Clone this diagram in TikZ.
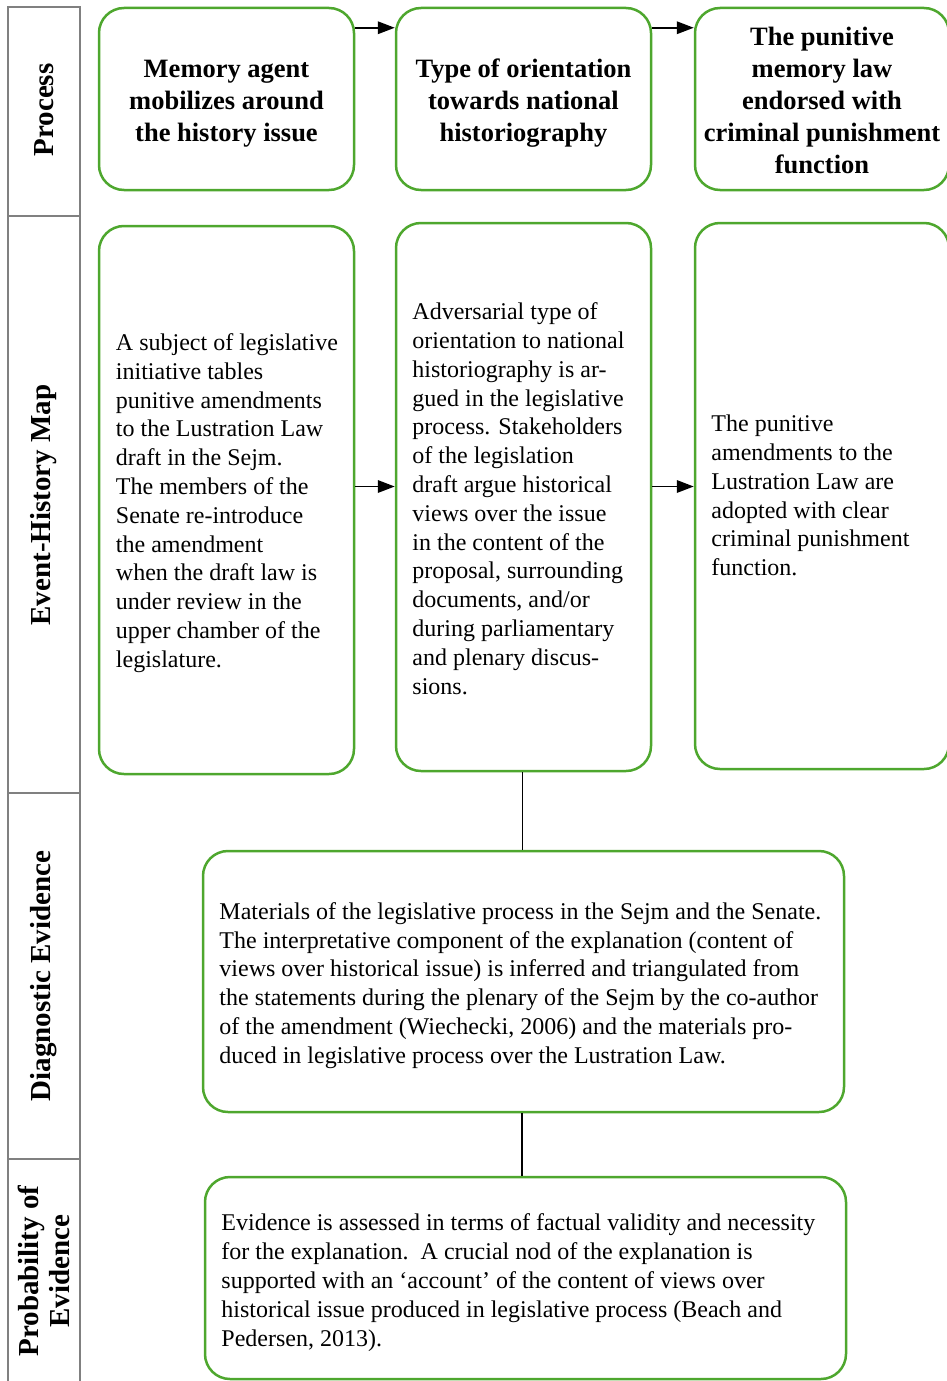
\documentclass[tikz,border=0pt]{standalone}
\usepackage{fontspec}
\setmainfont{Liberation Serif}
\usetikzlibrary{arrows.meta}
\definecolor{boxgreen}{RGB}{78,167,46}
\definecolor{railgray}{RGB}{128,128,128}

\begin{document}
\begin{tikzpicture}[x=1pt,y=-1pt,
  box/.style={draw=boxgreen, line width=2.5pt, rounded corners=25pt, inner sep=0pt},
  head/.style={inner sep=0pt, align=center, font=\fontsize{26.5}{32}\selectfont\bfseries},
  body/.style={inner sep=0pt, anchor=west, align=left, font=\fontsize{24}{28.8}\selectfont},
  flow/.style={line width=1.8pt, -{Triangle[length=17pt,width=12.5pt]}},
  link/.style={line width=1.8pt},
  rail/.style={draw=railgray, line width=2pt},
  lab/.style={rotate=90, align=center, font=\fontsize{29}{31}\selectfont\bfseries}]

\useasboundingbox (0,0) rectangle (947,1381);

% left-hand rail with the row titles
\draw[rail] (8,1390) -- (8,7) -- (80,7) -- (80,1390);
\draw[rail] (8,216) -- (80,216);
\draw[rail] (8,793) -- (80,793);
\draw[rail] (8,1159) -- (80,1159);
\node[lab] (lProc) at (44,110) {Process};
\node[lab] (lMap)  at (44,505) {Event-History Map};
\node[lab] (lDiag) at (44,976) {Diagnostic Evidence};
\node[lab] (lProb) at (44,1271) {Probability of\\Evidence};

% process row
\node[box, minimum width=255pt, minimum height=182pt] (A) at (226.5,99) {};
\node[box, minimum width=255pt, minimum height=182pt] (B) at (523.5,99) {};
\node[box, minimum width=254pt, minimum height=182pt] (C) at (822,99) {};

\node[head] (At) at ([yshift=-4.5pt]A.center)
  {Memory agent\\mobilizes around\\the history issue};
\node[head] (Bt) at ([yshift=-4.5pt]B.center)
  {Type of orientation\\towards national\\historiography};
\node[head] (Ct) at ([yshift=-1pt]C.center)
  {The punitive\\memory law\\endorsed with\\criminal punishment\\function};

% event-history row
\node[box, minimum width=255pt, minimum height=548pt] (D) at (226.5,500) {};
\node[box, minimum width=255pt, minimum height=548pt] (E) at (523.5,497) {};
\node[box, minimum width=254pt, minimum height=546pt] (F) at (822,496) {};

\node[body] (Dt) at ([xshift=18pt,yshift=-3pt]D.west)
  {A subject of legislative\\initiative tables\\punitive amendments\\to the Lustration Law\\draft in the Sejm.\\The members of the\\Senate re-introduce\\the amendment\\when the draft law is\\under review in the\\upper chamber of the\\legislature.};
\node[body] (Et) at ([xshift=17.5pt,yshift=-1.7pt]E.west)
  {Adversarial type of\\orientation to national\\historiography is ar-\\gued in the legislative\\process. Stakeholders\\of the legislation\\draft argue historical\\views over the issue\\in the content of the\\proposal, surrounding\\documents, and/or\\during parliamentary\\and plenary discus-\\sions.};
\node[body] (Ft) at ([xshift=17.5pt,yshift=0.5pt]F.west)
  {The punitive\\amendments to the\\Lustration Law are\\adopted with clear\\criminal punishment\\function.};

% evidence boxes
\node[box, minimum width=641pt, minimum height=261pt] (G) at (523.5,981.5) {};
\node[box, minimum width=641pt, minimum height=202pt] (H) at (525.5,1278) {};

\node[body] (Gt) at ([xshift=17.5pt,yshift=-4pt]G.west)
  {Materials of the legislative process in the Sejm and the Senate.\\The interpretative component of the explanation (content of\\views over historical issue) is inferred and triangulated from\\the statements during the plenary of the Sejm by the co-author\\of the amendment (Wiechecki, 2006) and the materials pro-\\duced in legislative process over the Lustration Law.};
\node[body] (Ht) at ([xshift=17.5pt,yshift=-4.6pt]H.west)
  {Evidence is assessed in terms of factual validity and necessity\\for the explanation.\ \ A crucial nod of the explanation is\\supported with an ‘account’ of the content of views over\\historical issue produced in legislative process (Beach and\\Pedersen, 2013).};

% connectors
\draw[flow] ([yshift=-21pt]A.north east) -- ([yshift=-21pt]B.north west);
\draw[flow] ([yshift=-21pt]B.north east) -- ([yshift=-21pt]C.north west);
\draw[flow] ([yshift=13.5pt]D.east) -- ([yshift=10.5pt]E.west);
\draw[flow] ([yshift=10.5pt]E.east) -- ([yshift=9.5pt]F.west);
\draw[link] ([xshift=-1pt]E.south) -- ([xshift=-1pt]E.south |- G.north);
\draw[link] ([xshift=-1.5pt]G.south) -- ([xshift=-1.5pt]G.south |- H.north);
\end{tikzpicture}
\end{document}
